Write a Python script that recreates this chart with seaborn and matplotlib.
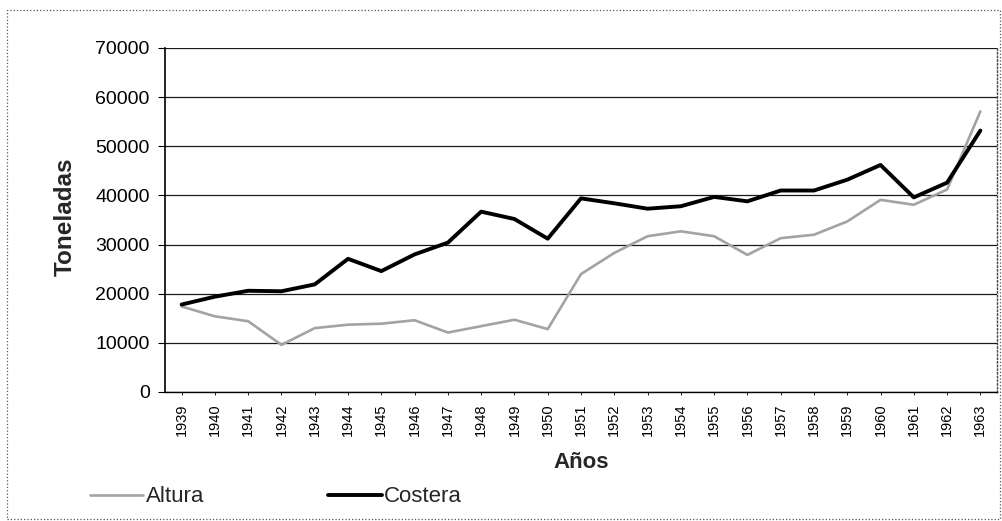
import pandas as pd
import matplotlib.pyplot as plt
import seaborn as sns
from matplotlib.patches import Rectangle

# Datos (toneladas por año)
years = [str(y) for y in range(1939, 1964)]
altura = [17400, 15400, 14400, 9600, 13000, 13700, 13900, 14600, 12100, 13400,
          14700, 12800, 24000, 28300, 31700, 32700, 31700, 27900, 31300, 32000,
          34700, 39100, 38100, 41200, 57100]
costera = [17800, 19400, 20600, 20500, 21900, 27100, 24600, 28000, 30400, 36700,
           35200, 31200, 39400, 38400, 37300, 37800, 39700, 38800, 41000, 41000,
           43200, 46200, 39600, 42600, 53200]
yticks = list(range(0, 70001, 10000))


def build_frame():
    df = pd.DataFrame({'Año': years, 'Altura': altura, 'Costera': costera})
    return df


def draw(df):
    sns.set_style('white')
    plt.rcParams['font.family'] = ['Liberation Sans', 'DejaVu Sans']

    fig = plt.figure(figsize=(10.03, 5.21), dpi=100)
    ax = fig.add_axes([165 / 1003, 1 - 392 / 521, 832 / 1003, 344 / 521])

    sns.lineplot(data=df, x='Año', y='Altura', ax=ax, color='#a3a3a3',
                 linewidth=1.9, label='Altura', sort=False)
    sns.lineplot(data=df, x='Año', y='Costera', ax=ax, color='black',
                 linewidth=2.8, label='Costera', sort=False)

    ax.set_xlim(-0.5, len(years) - 0.5)
    ax.set_ylim(0, 70000)
    ax.set_yticks(yticks)
    ax.set_yticklabels([str(v) for v in yticks], fontsize=14)
    ax.set_xticks(range(len(years)))
    ax.set_xticklabels(years, rotation=90, fontsize=10.5)
    ax.grid(axis='y', color='#1a1a1a', linewidth=0.9)
    ax.set_axisbelow(True)

    ax.spines['top'].set_visible(False)
    ax.spines['left'].set_color('black')
    ax.spines['left'].set_linewidth(1.2)
    ax.spines['bottom'].set_color('black')
    ax.spines['bottom'].set_linewidth(1.0)
    ax.spines['right'].set_color('#444444')
    ax.spines['right'].set_linestyle(':')
    ax.spines['right'].set_linewidth(1.0)
    ax.tick_params(axis='y', direction='out', length=5, width=0.8, pad=6,
                   left=True, colors='black')
    ax.tick_params(axis='x', direction='out', length=2, width=0.6, pad=6,
                   bottom=True, colors='black')

    ax.set_ylabel('Toneladas', fontsize=17.5, fontweight='bold')
    ax.yaxis.set_label_coords(-0.106, 0.51)
    ax.set_xlabel('Años', fontsize=16, fontweight='bold', labelpad=12)

    handles, labels = ax.get_legend_handles_labels()
    ax.get_legend().remove()
    fig.legend(handles, labels, loc='center left',
               bbox_to_anchor=(90 / 1003, 1 - 497 / 521), ncol=2,
               frameon=False, fontsize=16, handlelength=2.4,
               handletextpad=0.1, columnspacing=5.6,
               borderpad=0, borderaxespad=0)

    # marco exterior del grafico
    fig.patches.append(Rectangle((7 / 1003, 2 / 521), 993 / 1003, 509 / 521,
                                 transform=fig.transFigure, fill=False,
                                 edgecolor='#555555', linewidth=0.9,
                                 linestyle=':'))

    fig.savefig('out.png', dpi=100, facecolor='white')


def main():
    df = build_frame()
    draw(df)


if __name__ == "__main__":
    main()
